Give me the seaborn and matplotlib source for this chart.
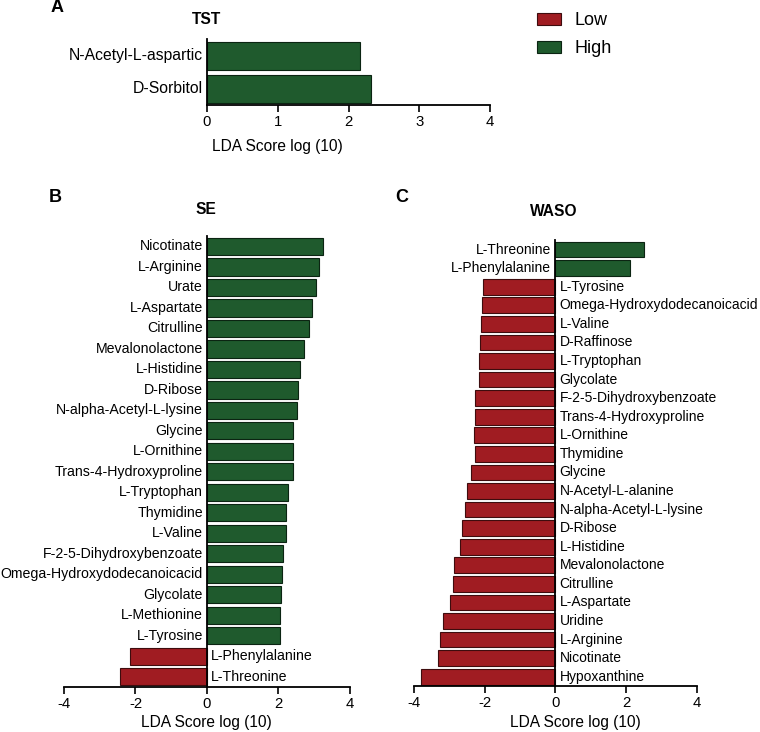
import matplotlib
matplotlib.use("Agg")
import matplotlib.pyplot as plt
from matplotlib.patches import Patch
import pandas as pd
import seaborn as sns

# LDA scores (positive = High, negative = Low)
tst_names = ["N-Acetyl-L-aspartic", "D-Sorbitol"]
tst_scores = [2.16, 2.32]

se_names = [
    "Nicotinate", "L-Arginine", "Urate", "L-Aspartate", "Citrulline",
    "Mevalonolactone", "L-Histidine", "D-Ribose", "N-alpha-Acetyl-L-lysine",
    "Glycine", "L-Ornithine", "Trans-4-Hydroxyproline", "L-Tryptophan",
    "Thymidine", "L-Valine", "F-2-5-Dihydroxybenzoate",
    "Omega-Hydroxydodecanoicacid", "Glycolate", "L-Methionine", "L-Tyrosine",
    "L-Phenylalanine", "L-Threonine",
]
se_scores = [3.25, 3.13, 3.06, 2.93, 2.86, 2.71, 2.59, 2.54, 2.52, 2.42, 2.40,
             2.40, 2.27, 2.22, 2.20, 2.12, 2.10, 2.07, 2.04, 2.04, -2.15, -2.43]

waso_names = [
    "L-Threonine", "L-Phenylalanine", "L-Tyrosine", "Omega-Hydroxydodecanoicacid",
    "L-Valine", "D-Raffinose", "L-Tryptophan", "Glycolate",
    "F-2-5-Dihydroxybenzoate", "Trans-4-Hydroxyproline", "L-Ornithine",
    "Thymidine", "Glycine", "N-Acetyl-L-alanine", "N-alpha-Acetyl-L-lysine",
    "D-Ribose", "L-Histidine", "Mevalonolactone", "Citrulline", "L-Aspartate",
    "Uridine", "L-Arginine", "Nicotinate", "Hypoxanthine",
]
waso_scores = [2.50, 2.12, -2.04, -2.07, -2.10, -2.14, -2.16, -2.17, -2.27,
               -2.27, -2.29, -2.28, -2.40, -2.49, -2.55, -2.63, -2.69, -2.86,
               -2.91, -2.99, -3.18, -3.26, -3.33, -3.81]

GROUPS = ["Low", "High"]
PALETTE = {"Low": "#a01c22", "High": "#1f5a2d"}
EDGES = {"Low": "#3e0c0e", "High": "#0b2412"}

W, H = 760, 732

sns.set_style("white")
plt.rcParams["font.family"] = ["Liberation Sans", "DejaVu Sans"]
plt.rcParams["axes.unicode_minus"] = False
plt.rcParams["text.color"] = "black"
plt.rcParams["xtick.color"] = "black"
FS = 10.2


def lda_panel(ax, names, scores, xlim, step, label_fs=FS):
    df = pd.DataFrame({"name": names, "score": scores})
    df["group"] = ["High" if s > 0 else "Low" for s in df["score"]]
    sns.barplot(data=df, x="score", y="name", hue="group", hue_order=GROUPS,
                palette=PALETTE, orient="h", dodge=False, width=0.85,
                saturation=1, legend=False, ax=ax)
    for bar_group, grp in zip(ax.containers, GROUPS):
        for patch in bar_group:
            patch.set_edgecolor(EDGES[grp])
            patch.set_linewidth(0.8)
    for i, (name, s) in enumerate(zip(names, scores)):
        off, ha = (-3, "right") if s > 0 else (3, "left")
        ax.annotate(name, xy=(0, i), xytext=(off, 0), textcoords="offset points",
                    ha=ha, va="center", fontsize=label_fs)
    ax.set_xlim(*xlim)
    ax.set_ylim(len(names) - 0.5, -0.5)
    ax.set_yticks([])
    ax.set_ylabel("")
    ax.set_xlabel("")
    ax.set_xticks(range(xlim[0], xlim[1] + 1, step))
    ax.tick_params(axis="x", direction="out", length=5, width=1.2, labelsize=FS + 0.5,
                   bottom=True, pad=2)
    for side in ("top", "right"):
        ax.spines[side].set_visible(False)
    ax.spines["left"].set_position(("data", 0))
    for side in ("left", "bottom"):
        ax.spines[side].set_linewidth(1.3)
        ax.spines[side].set_color("black")


def fig_text(x, y, s, **kw):
    return fig.text(x / W, 1 - y / H, s, ha="center", va="center", **kw)


fig = plt.figure(figsize=(W / 100, H / 100), dpi=100)
ax_a = fig.add_axes([0.2724, 0.8566, 0.3724, 0.0895])
ax_b = fig.add_axes([0.0842, 0.0615, 0.3763, 0.616])
ax_c = fig.add_axes([0.5447, 0.0628, 0.3724, 0.609])

lda_panel(ax_a, tst_names, tst_scores, (0, 4), 1, label_fs=11.3)
lda_panel(ax_b, se_names, se_scores, (-4, 4), 2)
lda_panel(ax_c, waso_names, waso_scores, (-4, 4), 2, label_fs=10.0)

for x, y in [(277, 147), (206, 722), (575, 722)]:
    fig_text(x, y, "LDA Score log (10)", fontsize=FS + 1)

fig_text(206, 20, "TST", fontsize=FS + 1, fontweight="bold")
fig_text(206, 209, "SE", fontsize=FS + 1, fontweight="bold")
fig_text(554, 212, "WASO", fontsize=FS + 1, fontweight="bold")
for letter, x, y in [("A", 57, 8), ("B", 55, 197), ("C", 402, 197)]:
    fig_text(x, y, letter, fontsize=13, fontweight="bold")

handles = [Patch(facecolor=PALETTE[g], edgecolor=EDGES[g], linewidth=0.8, label=g)
           for g in GROUPS]
fig.legend(handles=handles, loc="upper left", bbox_to_anchor=(521 / W, 1 + 4 / H),
           frameon=False, fontsize=13, handlelength=1.33, handleheight=0.67,
           handletextpad=0.72, labelspacing=0.6, borderpad=0.4)

fig.savefig("out.png", dpi=100)
